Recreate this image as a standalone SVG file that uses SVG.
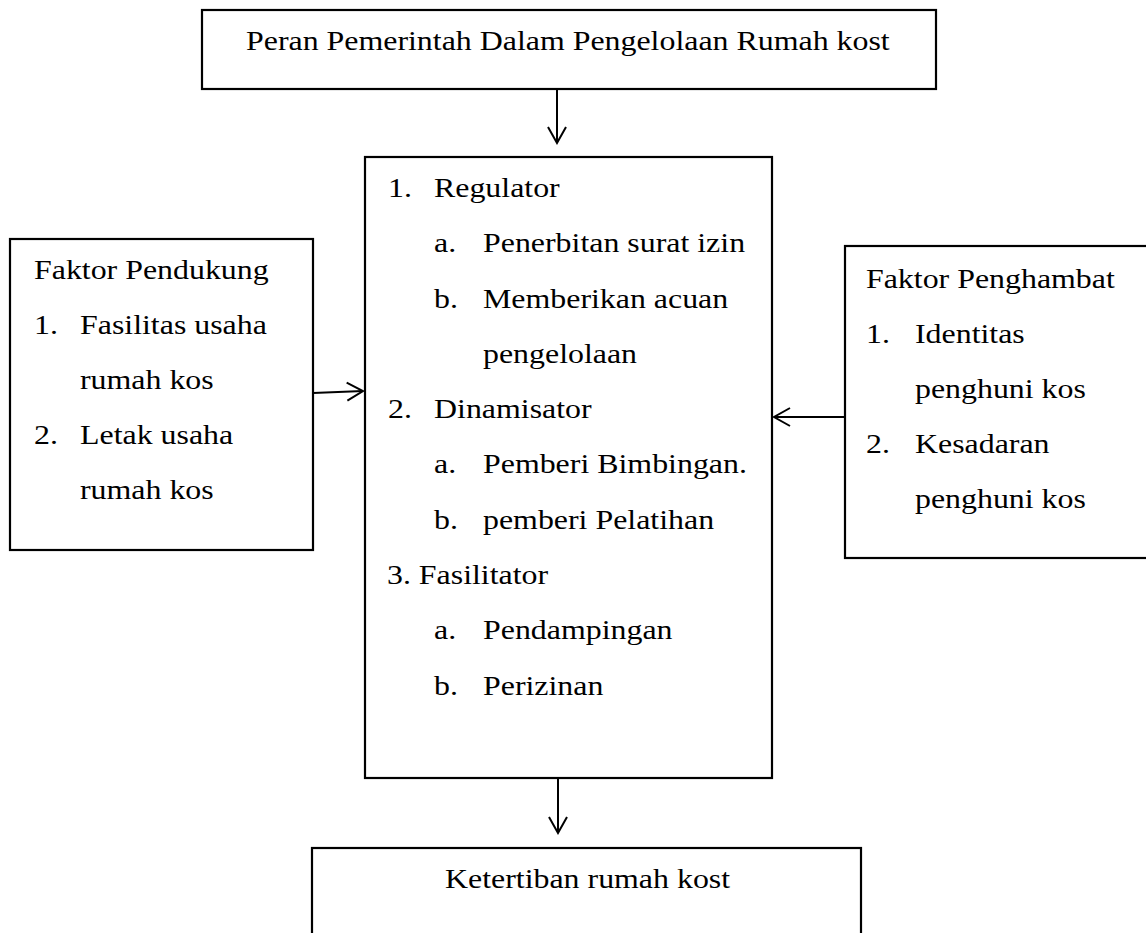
<svg xmlns="http://www.w3.org/2000/svg" width="1146" height="933" viewBox="0 0 1146 933">
<style>
.box{fill:#fff;stroke:#000;stroke-width:2.2}
.con{fill:none;stroke:#000;stroke-width:2}
text{font-family:"Liberation Serif","Times New Roman",serif;font-size:27.5px;fill:#000}
</style>
<defs>
<marker id="arr" viewBox="-18 -11 20 22" refX="0" refY="0" markerWidth="20" markerHeight="22" markerUnits="userSpaceOnUse" orient="auto">
<path d="M-16,-9 L0,0 L-16,9" fill="none" stroke="#000" stroke-width="2"/>
</marker>
</defs>
<rect width="1146" height="933" fill="#fff"/>
<g id="connectors">
<line class="con" x1="557" y1="89" x2="557" y2="143" marker-end="url(#arr)"/>
<line class="con" x1="313" y1="393" x2="363" y2="391" marker-end="url(#arr)"/>
<line class="con" x1="845" y1="417" x2="774" y2="417" marker-end="url(#arr)"/>
<line class="con" x1="558" y1="778" x2="558" y2="833" marker-end="url(#arr)"/>
</g>
<g id="node-peran">
<rect class="box" x="202" y="10" width="734" height="79"/>
<g transform="scale(1.16,1)"><text x="212.07" y="50">Peran Pemerintah Dalam Pengelolaan Rumah kost</text></g>
</g>
<g id="node-peran-detail">
<rect class="box" x="365" y="157" width="407" height="621"/>
<g transform="scale(1.16,1)">
<text y="197"><tspan x="334.48">1.</tspan><tspan x="374.14">Regulator</tspan></text>
<text y="252.3"><tspan x="374.14">a.</tspan><tspan x="416.38">Penerbitan surat izin</tspan></text>
<text y="307.6"><tspan x="374.14">b.</tspan><tspan x="416.38">Memberikan acuan</tspan></text>
<text y="362.9" x="416.38">pengelolaan</text>
<text y="418.2"><tspan x="334.48">2.</tspan><tspan x="374.14">Dinamisator</tspan></text>
<text y="473.5"><tspan x="374.14">a.</tspan><tspan x="416.38">Pemberi Bimbingan.</tspan></text>
<text y="528.8"><tspan x="374.14">b.</tspan><tspan x="416.38">pemberi Pelatihan</tspan></text>
<text y="584.1" x="333.62">3. Fasilitator</text>
<text y="639.4"><tspan x="374.14">a.</tspan><tspan x="416.38">Pendampingan</tspan></text>
<text y="694.7"><tspan x="374.14">b.</tspan><tspan x="416.38">Perizinan</tspan></text>
</g>
</g>
<g id="node-pendukung">
<rect class="box" x="10" y="239" width="303" height="311"/>
<g transform="scale(1.16,1)">
<text x="29.31" y="279">Faktor Pendukung</text>
<text y="334"><tspan x="29.31">1.</tspan><tspan x="68.97">Fasilitas usaha</tspan></text>
<text x="68.97" y="389">rumah kos</text>
<text y="444"><tspan x="29.31">2.</tspan><tspan x="68.97">Letak usaha</tspan></text>
<text x="68.97" y="499">rumah kos</text>
</g>
</g>
<g id="node-penghambat">
<rect class="box" x="845" y="246" width="310" height="312"/>
<g transform="scale(1.16,1)">
<text x="746.55" y="288">Faktor Penghambat</text>
<text y="343"><tspan x="746.55">1.</tspan><tspan x="788.79">Identitas</tspan></text>
<text x="788.79" y="398">penghuni kos</text>
<text y="453"><tspan x="746.55">2.</tspan><tspan x="788.79">Kesadaran</tspan></text>
<text x="788.79" y="508">penghuni kos</text>
</g>
</g>
<g id="node-ketertiban">
<rect class="box" x="312" y="848" width="549" height="100"/>
<g transform="scale(1.16,1)"><text x="383.62" y="888">Ketertiban rumah kost</text></g>
</g>
</svg>
